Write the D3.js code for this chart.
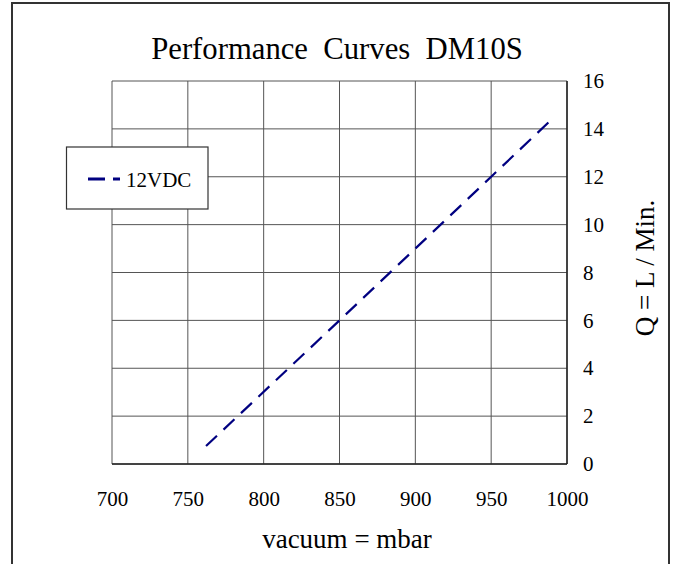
<!DOCTYPE html>
<html><head><meta charset="utf-8">
<script src="https://cdn.jsdelivr.net/npm/d3@7"></script>
<style>body{margin:0;background:#fff}svg text{font-family:"Liberation Serif","Times New Roman",serif;fill:#000}</style>
</head><body><svg id="c" width="676" height="564"></svg>
<script>
const xTicks = [700, 750, 800, 850, 900, 950, 1000];
const yTicks = [0, 2, 4, 6, 8, 10, 12, 14, 16];
const vacuum = [762, 850, 950, 990];
const flow12 = [0.75, 6, 12, 14.4];
const seriesName = "12VDC";

const svg = d3.select("#c");
const m = {l:112, t:81, r:567, b:464};
const x = d3.scaleLinear().domain([700,1000]).range([m.l,m.r]);
const y = d3.scaleLinear().domain([0,16]).range([m.b,m.t]);

svg.append("rect").attr("x",12).attr("y",3).attr("width",657).attr("height",570)
  .attr("fill","#fff").attr("stroke","#333").attr("stroke-width",2);

svg.append("text").attr("x",337).attr("y",59).attr("text-anchor","middle")
  .style("font-size","30.7px").style("white-space","pre").text("Performance  Curves  DM10S");

// grid
const g = svg.append("g");
g.selectAll("line.v").data(xTicks).join("line")
  .attr("x1",d=>x(d)).attr("x2",d=>x(d)).attr("y1",m.t).attr("y2",m.b)
  .attr("stroke","#555").attr("stroke-width",1);
g.selectAll("line.h").data(yTicks).join("line")
  .attr("x1",m.l).attr("x2",m.r).attr("y1",d=>y(d)).attr("y2",d=>y(d))
  .attr("stroke","#555").attr("stroke-width",1);
g.append("line").attr("x1",m.l).attr("x2",m.r).attr("y1",m.b).attr("y2",m.b).attr("stroke","#222").attr("stroke-width",1.5);
g.append("line").attr("x1",m.r).attr("x2",m.r).attr("y1",m.t).attr("y2",m.b).attr("stroke","#222").attr("stroke-width",1.5);

// axes labels
const xa = d3.axisBottom(x).tickValues(xTicks).tickFormat(d3.format("d")).tickSize(0).tickPadding(27);
svg.append("g").attr("transform",`translate(0,${m.b})`).call(xa)
  .call(s=>{s.select(".domain").remove();s.selectAll("line").remove();
    s.selectAll("text").style("font-size","21px").style("font-family","Liberation Serif");});
const ya = d3.axisRight(y).tickValues(yTicks).tickFormat(d3.format("d")).tickSize(0).tickPadding(16);
svg.append("g").attr("transform",`translate(${m.r},0)`).call(ya)
  .call(s=>{s.select(".domain").remove();s.selectAll("line").remove();
    s.selectAll("text").style("font-size","21px").style("font-family","Liberation Serif");});

svg.append("text").attr("x",347).attr("y",548).attr("text-anchor","middle").style("font-size","27px").text("vacuum = mbar");
svg.append("text").attr("transform","translate(654,268) rotate(-90)").attr("text-anchor","middle").style("font-size","27px").text("Q = L / Min.");

// series
const pts = vacuum.map((v,i)=>[v,flow12[i]]);
svg.append("path").datum(pts).attr("d",d3.line().x(d=>x(d[0])).y(d=>y(d[1])))
  .attr("fill","none").attr("stroke","#000080").attr("stroke-width",2.2).attr("stroke-dasharray","15,9");

// legend
const lg = svg.append("g");
lg.append("rect").attr("x",66.5).attr("y",147).attr("width",141.5).attr("height",62)
  .attr("fill","#fff").attr("stroke","#333").attr("stroke-width",1.2);
lg.append("line").attr("x1",88).attr("x2",120).attr("y1",179).attr("y2",179)
  .attr("stroke","#000080").attr("stroke-width",3).attr("stroke-dasharray","17,8");
lg.append("text").attr("x",126).attr("y",187).style("font-size","21px").text(seriesName);
</script></body></html>
